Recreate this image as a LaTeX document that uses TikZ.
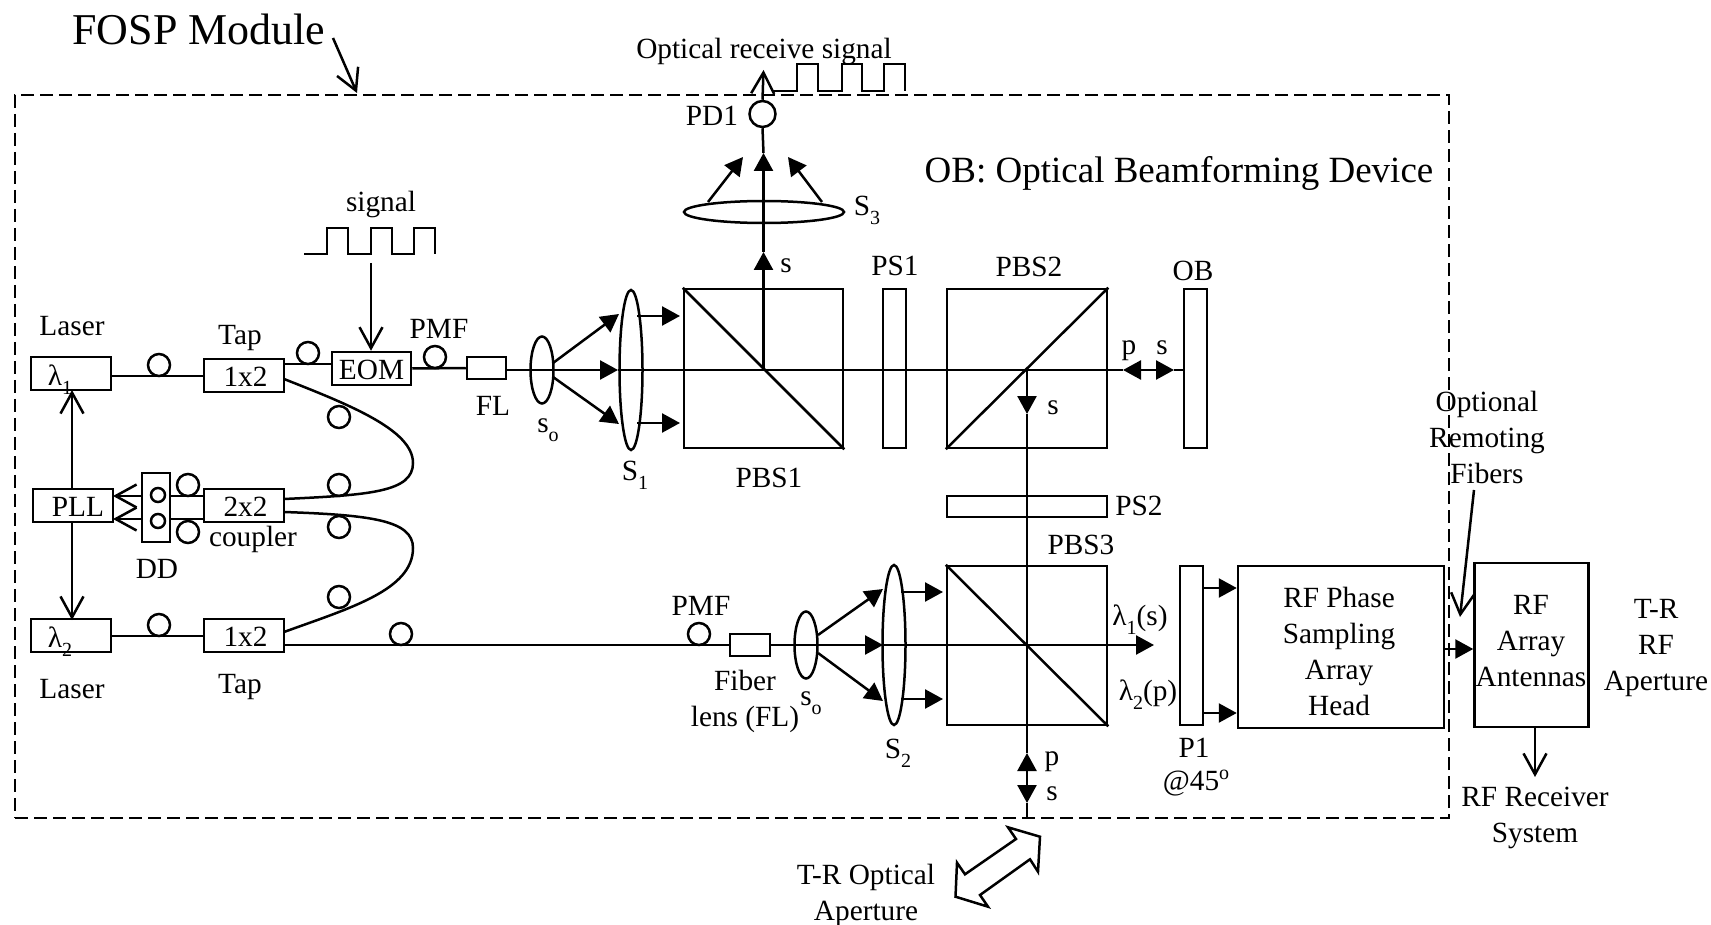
\documentclass[tikz,border=0pt]{standalone}
\usepackage{fontspec}
\setmainfont{Liberation Serif}
\usetikzlibrary{arrows.meta,shapes.geometric}
\newcommand\sbs[1]{\raisebox{-.32em}{\fontsize{20}{20}\selectfont #1}}
\newcommand\sps[1]{\raisebox{.38em}{\fontsize{20}{20}\selectfont #1}}
\tikzset{
  x=1pt,y=-1pt,
  every path/.style={line width=2.5pt},
  fhead/.tip={Triangle[length=18pt,width=19pt]},
  ohead/.tip={Straight Barb[length=21pt,width=23pt,line width=2.5pt]},
  fa/.style={-{fhead}},
  oa/.style={-{ohead}},
  lbl/.style={inner sep=0pt,font=\fontsize{29.3}{36}\selectfont,text height=22pt,text depth=5pt},
  mlbl/.style={inner sep=0pt,font=\fontsize{29.3}{36}\selectfont,align=center},
  boxn/.style={draw,line width=2.5pt,fill=white,inner sep=0pt,font=\fontsize{29.3}{36}\selectfont,text height=26pt,text depth=5pt},
  plainb/.style={draw,line width=2.5pt,inner sep=0pt},
  loop/.style={draw,circle,line width=2.5pt,minimum size=22pt,inner sep=0pt},
  lens/.style={draw,ellipse,line width=2.5pt,inner sep=0pt},
  dbox/.style={draw,line width=2.9pt,dash pattern=on 12.7pt off 6.3pt,inner sep=0pt},
}
\begin{document}
\begin{tikzpicture}
\useasboundingbox (0,0) rectangle (1711,925);
\fill[white] (0,0) rectangle (1711,925);

% module frame
\node[dbox,minimum width=1434pt,minimum height=723pt] (fosp) at (732,456.5) {};

% cube boxes
\node[plainb,minimum width=159pt,minimum height=159pt] (pbs1) at (763.5,368.5) {};
\node[plainb,minimum width=23pt,minimum height=159pt] (ps1) at (894.5,368.5) {};
\node[plainb,minimum width=160pt,minimum height=159pt] (pbs2) at (1027,368.5) {};
\node[plainb,minimum width=23pt,minimum height=159pt] (ob) at (1195.5,368.5) {};
\node[plainb,minimum width=160pt,minimum height=21pt] (ps2) at (1027,506.5) {};
\node[plainb,minimum width=160pt,minimum height=159pt] (pbs3) at (1027,645.5) {};
\node[plainb,minimum width=23pt,minimum height=159pt] (p1) at (1191.5,645.5) {};

% diagonals
\draw (pbs1.north west) -- (pbs1.south east);
\draw (pbs2.south west) -- (pbs2.north east);
\draw (pbs3.north west) -- (pbs3.south east);

% small boxes
\node[boxn,minimum width=80pt,minimum height=33pt] (l1) at (71,373.5) {};
\node[boxn,minimum width=80pt,minimum height=33pt] (l2) at (71,635.5) {};
\node[boxn,minimum width=80pt,minimum height=33pt] (t1) at (244,375.5) {\hspace*{3pt}1x2};
\node[boxn,minimum width=80pt,minimum height=33pt] (t2) at (244,635.5) {\hspace*{3pt}1x2};
\node[boxn,minimum width=80pt,minimum height=33pt] (cp) at (244,505.5) {\hspace*{3pt}2x2};
\node[boxn,minimum width=80pt,minimum height=33pt] (pll) at (73,505.5) {\hspace*{10pt}PLL};
\node[boxn,minimum width=79pt,minimum height=33pt] (eom) at (371.5,368.5) {EOM};
\node[plainb,fill=white,minimum width=39pt,minimum height=22pt] (fl) at (486.5,368) {};
\node[plainb,fill=white,minimum width=40pt,minimum height=22pt] (fl2) at (750,645) {};

% fibre lines
\draw (l1.east |- 0,376) -- (t1.west |- 0,376);
\draw (l2.east |- 0,636) -- (t2.west |- 0,636);
\draw (t1.east |- 0,364) -- (eom.west |- 0,364);
\draw (eom.east) -- (fl.west);
\coordinate (t2o) at (284,645);
\draw (t2o) -- (fl2.west);
\coordinate (u1) at (284,379); \coordinate (u2) at (284,499);
\coordinate (d1) at (284,512); \coordinate (d2) at (284,632);
\draw (u1) .. controls (350,405) and (413,430) .. (413,463) .. controls (413,492) and (370,495) .. (u2);
\draw (d1) .. controls (370,515) and (413,520) .. (413,548) .. controls (413,590) and (350,608) .. (d2);

% fibre loops
\node[loop] (c1) at (159,365) {};
\node[loop] (c2) at (159,625) {};
\node[loop] (c3) at (308,353) {};
\node[loop] (c4) at (435,357) {};
\node[loop] (c5) at (339,417) {};
\node[loop] (c6) at (339,485) {};
\node[loop] (c7) at (339,527) {};
\node[loop] (c8) at (339,597) {};
\node[loop] (c9) at (188,485) {};
\node[loop] (c10) at (188,532) {};
\node[loop] (c11) at (401,634) {};
\node[loop] (c12) at (699,634) {};

% detector pair
\coordinate (cpa) at (204,496); \coordinate (cpb) at (204,519);
\coordinate (plla) at (113,496); \coordinate (pllb) at (113,519);
\draw[oa] (cpa) -- (plla);
\draw[oa] (cpb) -- (pllb);
\node[plainb,fill=white,minimum width=28pt,minimum height=69pt] (dd) at (156,507.5) {};
\node[draw,circle,line width=2.5pt,minimum size=14pt,inner sep=0pt] (dd1) at (158,495) {};
\node[draw,circle,line width=2.5pt,minimum size=14pt,inner sep=0pt] (dd2) at (158,521) {};

% PLL control
\draw[oa] (72,489) -- (72,390);
\draw[oa] (72,522) -- (72,620);

% lenses
\node[lens,minimum width=23pt,minimum height=67pt] (so1) at (542,370) {};
\node[lens,minimum width=23pt,minimum height=160pt] (s1) at (631,370) {};
\node[lens,minimum width=23pt,minimum height=67pt] (so2) at (806,645) {};
\node[lens,minimum width=23pt,minimum height=160pt] (s2) at (894,645) {};
\node[lens,minimum width=160pt,minimum height=22pt] (s3) at (764,212) {};

% main optical line, upper
\coordinate (m1) at (618,370);
\coordinate (pl) at (1123,370); \coordinate (pr) at (1174,370);
\draw[fa] (fl.east |- m1) -- (m1);
\draw (m1) -- (pl);
\draw[{fhead}-{fhead}] (pl) -- (pr);
\draw (pr) -- (ob.west |- pr);
\draw[fa] (553,363) -- (619,314);
\draw[fa] (553,377) -- (619,424);
\draw[fa] (637,316) -- (680,316);
\draw[fa] (637,423) -- (680,423);

% vertical to PD1
\coordinate (bs) at (763.5,370);
\coordinate (st) at (763.5,252); \coordinate (st2) at (763.5,153);
\draw[fa] (bs) -- (st);
\draw[fa] (st) -- (st2);
\node[draw,circle,line width=2.5pt,minimum size=26pt,inner sep=0pt] (pd1) at (762.5,114) {};
\draw (st2) -- (pd1.south);
\coordinate (pdt) at (763.5,70);
\draw[oa] (pd1.north) -- (pdt);
\draw[fa] (708,202) -- (743,157);
\draw[fa] (822,202) -- (788,157);

% receive pulse
\draw (773,91) -- (797,91) -- (797,64) -- (818,64) -- (818,91) -- (842,91) -- (842,64) -- (862,64) -- (862,91) -- (884,91) -- (884,64) -- (905,64) -- (905,91);

% signal pulse
\draw (304,254) -- (327,254) -- (327,228) -- (348,228) -- (348,254) -- (371,254) -- (371,228) -- (392,228) -- (392,254) -- (414,254) -- (414,228) -- (435,228) -- (435,254);
\coordinate (sg) at (371,263);
\draw[oa] (sg) -- (eom.north -| sg);

% PBS2 to PBS3
\coordinate (v1) at (1027,370); \coordinate (v2) at (1027,414);
\coordinate (v3) at (1027,753); \coordinate (v4) at (1027,803); \coordinate (v5) at (1027,818);
\draw[fa] (v1) -- (v2);
\draw (v2) -- (v3);
\draw[{fhead}-{fhead}] (v3) -- (v4);
\draw (v4) -- (v5);

% lower optical line
\coordinate (m2) at (883,645); \coordinate (m3) at (1154,645);
\draw[fa] (fl2.east) -- (m2);
\draw[fa] (m2) -- (m3);
\draw[fa] (818,635) -- (883,589);
\draw[fa] (818,653) -- (883,701);
\draw[fa] (901,592) -- (943,592);
\draw[fa] (901,699) -- (943,699);

% RF section
\node[plainb,minimum width=206pt,minimum height=162pt] (rfh) at (1341,647) {};
\node[plainb,minimum width=114pt,minimum height=164pt] (rfa) at (1531.5,645) {};
\draw[fa] (p1.east |- 0,588) -- (rfh.west |- 0,588);
\draw[fa] (p1.east |- 0,713) -- (rfh.west |- 0,713);
\draw[fa] (rfh.east |- 0,649) -- (rfa.west |- 0,649);
\coordinate (or1) at (1474,490); \coordinate (or2) at (1460,617);
\draw[oa] (or1) -- (or2);
\coordinate (rr) at (1535,777);
\draw[oa] (rfa.south -| rr) -- (rr);

% FOSP pointer
\coordinate (f1) at (333,38); \coordinate (f2) at (357,93);
\draw[oa] (f1) -- (f2);

% hollow double arrow
\draw[line join=miter,fill=white] (1040,836.7) -- (1008,827.3) -- (1016,839) -- (965,874.3) -- (957,862.7) -- (955.5,896.7) -- (988,906.7) -- (980,895) -- (1030,859.3) -- (1038,871.7) -- cycle;

% labels
\node[lbl,font=\fontsize{44}{44}\selectfont] (tfosp) at (199,36) {FOSP Module};
\node[lbl,font=\fontsize{37}{37}\selectfont] (tob2) at (1179,174) {OB: Optical Beamforming Device};
\node[lbl] (tors) at (764,50) {Optical receive signal};
\node[lbl] (tpd) at (712,117) {PD1};
\node[lbl] (ts3) at (867,207) {S\sbs{3}};
\node[lbl] (tsig) at (381,203) {signal};
\node[lbl] (ts) at (786,264) {s};
\node[lbl] (tps1) at (895,267) {PS1};
\node[lbl] (tpbs2) at (1029,268) {PBS2};
\node[lbl] (tob) at (1193,272) {OB};
\node[lbl] (tpmf1) at (439,330) {PMF};
\node[lbl] (tla1) at (72,327) {Laser};
\node[lbl] (ttap1) at (240,336) {Tap};
\node[lbl] (tl1) at (60,377) {λ\sbs{1}};
\node[lbl] (tl2) at (60,639) {λ\sbs{2}};
\node[lbl] (tp) at (1129,346) {p};
\node[lbl] (tst) at (1162,346) {s};
\node[lbl] (ts2) at (1053,406) {s};
\node[lbl] (tfl) at (493,407) {FL};
\node[lbl] (tso1) at (548,424) {s\sbs{o}};
\node[lbl] (ts1) at (635,472) {S\sbs{1}};
\node[lbl] (tpbs1) at (769,479) {PBS1};
\node[lbl] (tps2) at (1139,507) {PS2};
\node[lbl] (tpbs3) at (1081,546) {PBS3};
\node[lbl] (tcp) at (253,538) {coupler};
\node[lbl] (tdd) at (157,570) {DD};
\node[lbl] (tpmf2) at (701,607) {PMF};
\node[mlbl] (tfib) at (745,701.5) {Fiber\\lens (FL)};
\node[lbl] (tso2) at (811,697) {s\sbs{o}};
\node[lbl] (ts22) at (898,750) {S\sbs{2}};
\node[lbl] (tla2) at (72,690) {Laser};
\node[lbl] (ttap2) at (240,685) {Tap};
\node[lbl] (tl1s) at (1140,617) {λ\sbs{1}(s)};
\node[lbl] (tl2p) at (1148,692) {λ\sbs{2}(p)};
\node[lbl] (tvp) at (1052,757) {p};
\node[lbl] (tvs) at (1052,792) {s};
\node[lbl] (tp1) at (1194,749) {P1};
\node[lbl] (t45) at (1196,782) {@45\sps{o}};
\node[mlbl] (tap) at (866,895.5) {T-R Optical\\Aperture};
\node[mlbl] (trfh) at (1339,651) {RF Phase\\Sampling\\Array\\Head};
\node[mlbl] (tant) at (1531,641) {RF\\Array\\Antennas};
\node[mlbl] (ttr) at (1656,648) {T-R\\RF\\Aperture};
\node[mlbl] (topt) at (1487,437) {Optional\\Remoting\\Fibers};
\node[mlbl] (trec) at (1535,818) {RF Receiver\\System};
\end{tikzpicture}
\end{document}
